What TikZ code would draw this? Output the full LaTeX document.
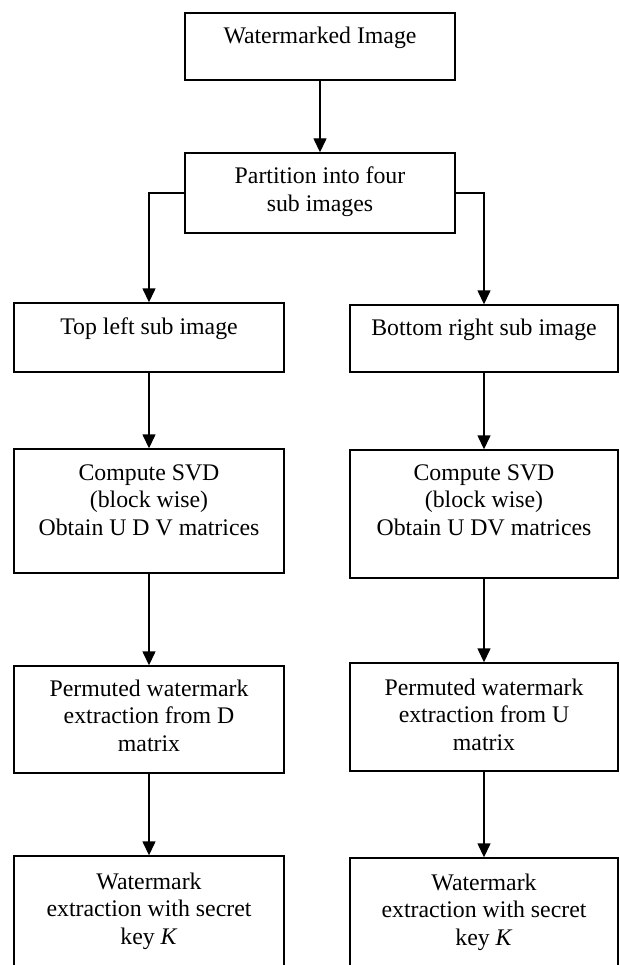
\documentclass[tikz,border=0pt]{standalone}
\usepackage{fontspec}
\setmainfont{Liberation Serif}
\usetikzlibrary{arrows.meta}
\newcommand{\mlines}[1]{\begin{tabular}[t]{@{}c@{}}#1\end{tabular}}
\begin{document}
\begin{tikzpicture}[x=1pt,y=-1pt,
  boxnode/.style={draw, line width=1.4pt, rectangle, inner sep=0pt},
  txt/.style={anchor=base, inner sep=0pt, font=\fontsize{23.8}{27.6}\selectfont},
  arr/.style={line width=1.4pt, -{Triangle[width=13pt,length=14pt]}}]
\useasboundingbox (0,0) rectangle (620,965);
\clip (0,0) rectangle (620,965);
% boxes
\node[boxnode, minimum width=270pt, minimum height=67pt] (W) at (320,46.5) {};
\node[boxnode, minimum width=270pt, minimum height=80pt] (P) at (320,193) {};
\node[boxnode, minimum width=270pt, minimum height=69pt] (TL) at (149,337.5) {};
\node[boxnode, minimum width=268pt, minimum height=67pt] (BR) at (484,338.5) {};
\node[boxnode, minimum width=270pt, minimum height=124pt] (CL) at (149,511) {};
\node[boxnode, minimum width=268pt, minimum height=128pt] (CR) at (484,514) {};
\node[boxnode, minimum width=270pt, minimum height=107pt] (PL) at (149,719.5) {};
\node[boxnode, minimum width=268pt, minimum height=108pt] (PR) at (484,717) {};
\node[boxnode, minimum width=270pt, minimum height=150pt] (WL) at (149,931) {};
\node[boxnode, minimum width=268pt, minimum height=150pt] (WR) at (484,933) {};
% texts
\node[txt] (tW) at (320,44) {\mlines{Watermarked Image}};
\node[txt] (tP) at (320,184) {\mlines{Partition into four\\sub images}};
\node[txt] (tTL) at (149,334) {\mlines{Top left sub image}};
\node[txt] (tBR) at (484,335) {\mlines{Bottom right sub image}};
\node[txt] (tCL) at (149,480) {\mlines{Compute SVD\\(block wise)\\Obtain U D V matrices}};
\node[txt] (tCR) at (484,480) {\mlines{Compute SVD\\(block wise)\\Obtain U DV matrices}};
\node[txt] (tPL) at (149,696) {\mlines{Permuted watermark\\extraction from D\\matrix}};
\node[txt] (tPR) at (484,695) {\mlines{Permuted watermark\\extraction from U\\matrix}};
\node[txt] (tWL) at (149,889) {\mlines{Watermark\\extraction with secret\\key \textit{K}}};
\node[txt] (tWR) at (484,890) {\mlines{Watermark\\extraction with secret\\key \textit{K}}};
% connectors
\draw[arr] (W.south) -- (P.north);
\draw[arr] (P.west) -| (TL.north);
\draw[arr] (P.east) -| (BR.north);
\draw[arr] (TL.south) -- (CL.north);
\draw[arr] (BR.south) -- (CR.north);
\draw[arr] (CL.south) -- (PL.north);
\draw[arr] (CR.south) -- (PR.north);
\draw[arr] (PL.south) -- (WL.north);
\draw[arr] (PR.south) -- (WR.north);
\end{tikzpicture}
\end{document}
